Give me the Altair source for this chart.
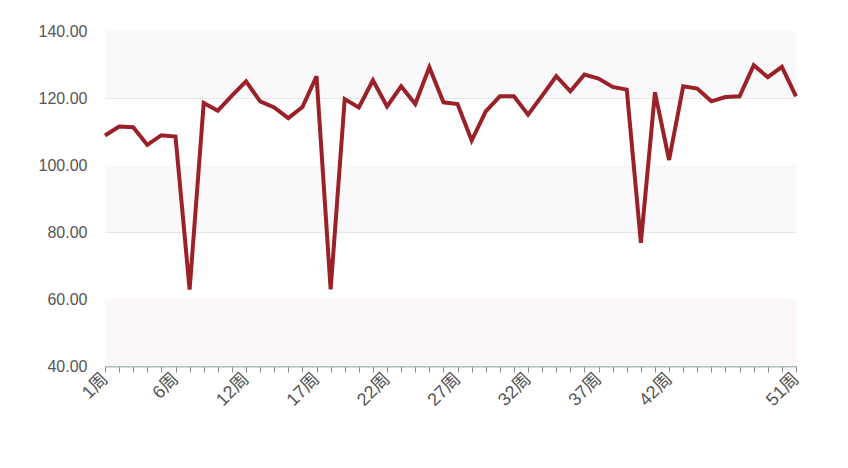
import altair as alt
import pandas as pd

weeks = [1, 2, 3, 4, 5, 6, 7, 8, 9, 10] + list(range(12, 52))
week_labels = [f"{w}周" for w in weeks]
values = [108.8, 111.5, 111.3, 106.0, 108.9, 108.5, 62.8, 118.5, 116.2, 120.7,
          125.0, 119.0, 117.2, 114.0, 117.3, 126.5, 62.9, 119.7, 117.2, 125.3,
          117.5, 123.5, 118.2, 129.2, 118.7, 118.2, 107.3, 116.0, 120.5, 120.5,
          115.0, 120.7, 126.5, 122.0, 127.0, 125.8, 123.3, 122.5, 76.8, 121.7,
          101.5, 123.5, 122.8, 119.0, 120.3, 120.5, 129.8, 126.2, 129.3, 120.5]
shown_labels = ["1周", "6周", "12周", "17周", "22周", "27周", "32周", "37周", "42周", "51周"]
y_ticks = [40, 60, 80, 100, 120, 140]
band_lo = [40, 80, 120]
band_hi = [60, 100, 140]
band_col = ["#fcf8f9", "#f9f9fb", "#f9f9fb"]

W, H = 691, 335
FONT = "Liberation Sans, Noto Sans CJK SC"

df = pd.DataFrame({"week": week_labels, "v": values})
bands = pd.DataFrame({"lo": band_lo, "hi": band_hi, "c": band_col})

yscale = alt.Scale(domain=[40, 140], nice=False, zero=False)
yaxis = alt.Axis(values=y_ticks, format=".2f", domain=False, ticks=False,
                 gridColor="#e6e6e6", labelFontSize=16, labelColor="#555555",
                 labelFont=FONT, labelPadding=18, title=None)

band_layer = alt.Chart(bands).mark_rect().encode(
    x=alt.value(0), x2=alt.value(W),
    y=alt.Y("lo:Q", scale=yscale, axis=yaxis),
    y2="hi:Q",
    color=alt.Color("c:N", scale=None),
)

label_list = ",".join(f"'{s}'" for s in shown_labels)
line_layer = alt.Chart(df).mark_line(color="#9b2128", strokeWidth=4, strokeJoin="miter").encode(
    x=alt.X("week:O", sort=week_labels, scale=alt.Scale(type="point", padding=0),
            axis=alt.Axis(labelAngle=-45, labelAlign="right", labelBaseline="middle",
                          labelExpr=f"indexof([{label_list}], datum.value) >= 0 ? datum.value : ''",
                          labelOverlap=False, grid=False, domainColor="#a9bebe", domainWidth=2,
                          tickColor="#8a8a8a", tickSize=6, labelFontSize=18, labelColor="#555555",
                          labelFont=FONT, labelPadding=4, title=None)),
    y=alt.Y("v:Q", scale=yscale, axis=yaxis),
)

chart = alt.layer(band_layer, line_layer).properties(
    width=W, height=H,
    autosize=alt.AutoSizeParams(type="none"),
    padding={"left": 97, "top": 23, "right": 40, "bottom": 80},
).configure_view(stroke=None)

chart.save("out.html", embed_options={"renderer": "svg", "actions": False})
